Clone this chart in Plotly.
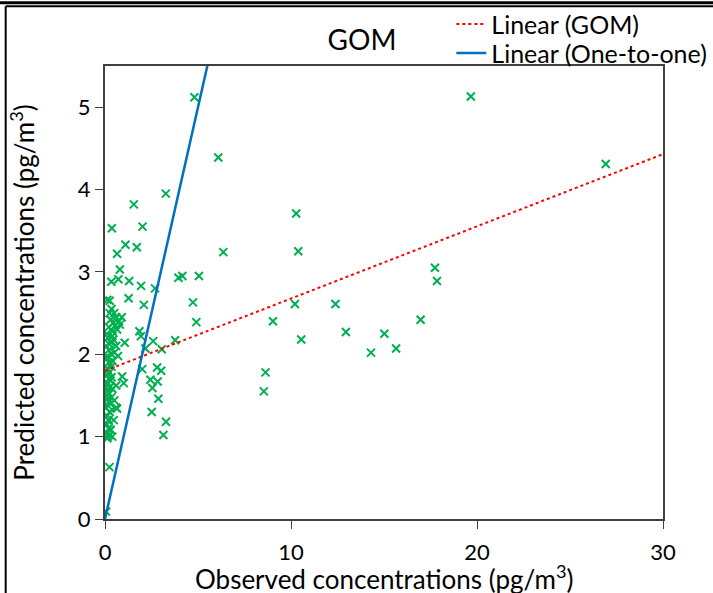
# GOM scatter: observed vs predicted concentrations

# Imports
import plotly.graph_objects as go

# Observed concentrations (pg/m3)
observed = [
    19.67, 6.09, 26.92, 10.28, 6.36, 10.39, 5.05, 17.74, 17.85, 10.21,
    12.39, 9.03, 16.97, 10.55, 12.95, 15.02, 14.30, 15.65, 8.63, 8.54,
    4.81, 3.27, 3.95, 4.16, 2.69, 4.73, 4.91, 2.59, 3.77, 3.05,
    2.80, 3.02, 2.44, 2.83, 2.55, 2.87, 2.51, 3.28, 3.14, 0.24,
    0.06, 1.55, 0.37, 2.02, 1.10, 1.71, 0.65, 0.80, 0.34, 0.72,
    1.30, 1.94, 0.12, 0.25, 1.27, 2.09, 1.06, 1.85, 1.93, 2.17,
    2.00, 0.92, 1.01, 0.65, 0.47, 0.30, 0.39, 0.60,
    0.35, 0.50, 0.60, 0.75, 0.45, 0.30, 0.55, 0.65, 0.20, 0.40,
    0.80, 0.90, 0.25, 0.10, 0.15, 0.30, 0.45, 0.60, 0.20, 0.35,
    0.50, 0.70, 0.05, 0.12, 0.40, 0.25, 0.10, 0.20, 0.30, 0.15,
    0.35, 0.05, 0.25, 0.40, 0.10, 0.20, 0.15, 0.30, 0.05, 0.25,
    0.35, 0.12, 0.22, 0.40, 0.60, 0.08, 0.10, 0.20, 0.15, 0.30,
    0.05, 0.25, 0.12, 0.18, 0.35, 0.50, 0.10, 0.20, 0.05, 0.15,
    0.25, 0.30, 0.12,
]

# Predicted concentrations (pg/m3)
predicted = [
    5.13, 4.39, 4.31, 3.71, 3.24, 3.25, 2.95, 3.05, 2.89, 2.61,
    2.61, 2.40, 2.42, 2.18, 2.27, 2.25, 2.02, 2.07, 1.78, 1.55,
    5.12, 3.95, 2.93, 2.95, 2.80, 2.63, 2.39, 2.16, 2.17, 2.06,
    1.84, 1.80, 1.69, 1.67, 1.59, 1.46, 1.30, 1.18, 1.02, 0.63,
    0.09, 3.82, 3.53, 3.55, 3.33, 3.30, 3.22, 3.03, 2.88, 2.91,
    2.89, 2.83, 2.66, 2.65, 2.68, 2.60, 2.14, 2.28, 2.22, 2.07,
    1.82, 1.73, 1.65, 1.34, 1.20, 1.08, 1.00, 1.35,
    2.55, 2.50, 2.45, 2.40, 2.38, 2.42, 2.35, 2.30, 2.33, 2.28,
    2.36, 2.45, 2.50, 2.25, 2.20, 2.15, 2.18, 2.10, 2.05, 2.00,
    2.02, 1.98, 2.10, 1.98, 2.22, 2.12, 1.95, 1.90, 1.88, 1.82,
    1.85, 1.80, 1.78, 1.92, 1.75, 1.70, 1.65, 1.68, 1.60, 1.60,
    1.72, 1.55, 1.52, 1.58, 1.62, 1.50, 1.45, 1.42, 1.38, 1.40,
    1.35, 1.30, 1.25, 1.20, 1.48, 1.44, 1.15, 1.10, 1.05, 1.00,
    1.02, 1.08, 0.98,
]

# Linear trendline (GOM) read at both ends
trend_x = [0, 30]
trend_y = [1.80, 4.43]

# One-to-one line
one_x = [0, 30]
one_y = [0, 30]

font_name = "Lato"

fig = go.Figure()
fig.add_trace(go.Scatter(x=observed, y=predicted, mode='markers',
                         name='GOM', showlegend=False,
                         marker=dict(symbol='x-thin', size=8,
                                     line=dict(width=2, color='#00B050'))))
fig.add_trace(go.Scatter(x=trend_x, y=trend_y, mode='lines',
                         name='Linear (GOM)', legend='legend',
                         line=dict(color='#FF0000', width=2, dash='dot')))
fig.add_trace(go.Scatter(x=one_x, y=one_y, mode='lines',
                         name='Linear (One-to-one)', legend='legend2',
                         line=dict(color='#0070C0', width=2.5)))

fig.update_layout(
    width=713, height=593,
    margin=dict(l=105, r=50, t=66, b=74, autoexpand=False),
    paper_bgcolor='white', plot_bgcolor='white',
    font=dict(family=font_name, size=22, color='black'),
    title=dict(text='GOM', x=0.5077, xanchor='center', y=0.9325,
               yanchor='middle', font=dict(size=28)),
    legend=dict(x=0.633, xanchor='left', y=0.998, yanchor='top',
                xref='container', yref='container',
                bgcolor='rgba(0,0,0,0)', font=dict(size=25)),
    legend2=dict(x=0.633, xanchor='left', y=0.949, yanchor='top',
                 xref='container', yref='container',
                 bgcolor='rgba(0,0,0,0)', font=dict(size=25)),
    xaxis=dict(range=[0, 30], tickvals=[0, 10, 20, 30],
               showline=True, linecolor='#404040', linewidth=2, mirror=True,
               ticks='outside', ticklen=8, tickcolor='#404040',
               ticklabelstandoff=5,
               showgrid=False, zeroline=False),
    yaxis=dict(range=[0, 5.5], tickvals=[0, 1, 2, 3, 4, 5],
               title=dict(text='Predicted concentrations (pg/m<sup>3</sup>)',
                          standoff=36, font=dict(size=26)),
               showline=True, linecolor='#404040', linewidth=2, mirror=True,
               ticks='outside', ticklen=8, tickcolor='#404040',
               showgrid=False, zeroline=False),
)

# x title sits tight under the tick labels, as in the original
fig.add_annotation(text='Observed concentrations (pg/m<sup>3</sup>)',
                   xref='paper', yref='paper', x=0.5, y=-0.129,
                   xanchor='center', yanchor='middle', showarrow=False,
                   font=dict(size=26))

# Chart frame (left edge plus double rule along the top)
fig.add_shape(type='line', xref='paper', yref='paper',
              x0=-0.178, x1=-0.178, y0=-0.3, y1=1.132,
              line=dict(color='black', width=2))
fig.add_shape(type='line', xref='paper', yref='paper',
              x0=-0.178, x1=1.2, y0=1.132, y1=1.132,
              line=dict(color='black', width=2))
fig.add_shape(type='line', xref='paper', yref='paper',
              x0=-0.3, x1=1.2, y0=1.1395, y1=1.1395,
              line=dict(color='black', width=3))

# drop the browser's default body margin so the figure sits at 0,0
fig.write_html("out.html", config={'displayModeBar': False},
               post_script="document.body.style.margin='0px';")
